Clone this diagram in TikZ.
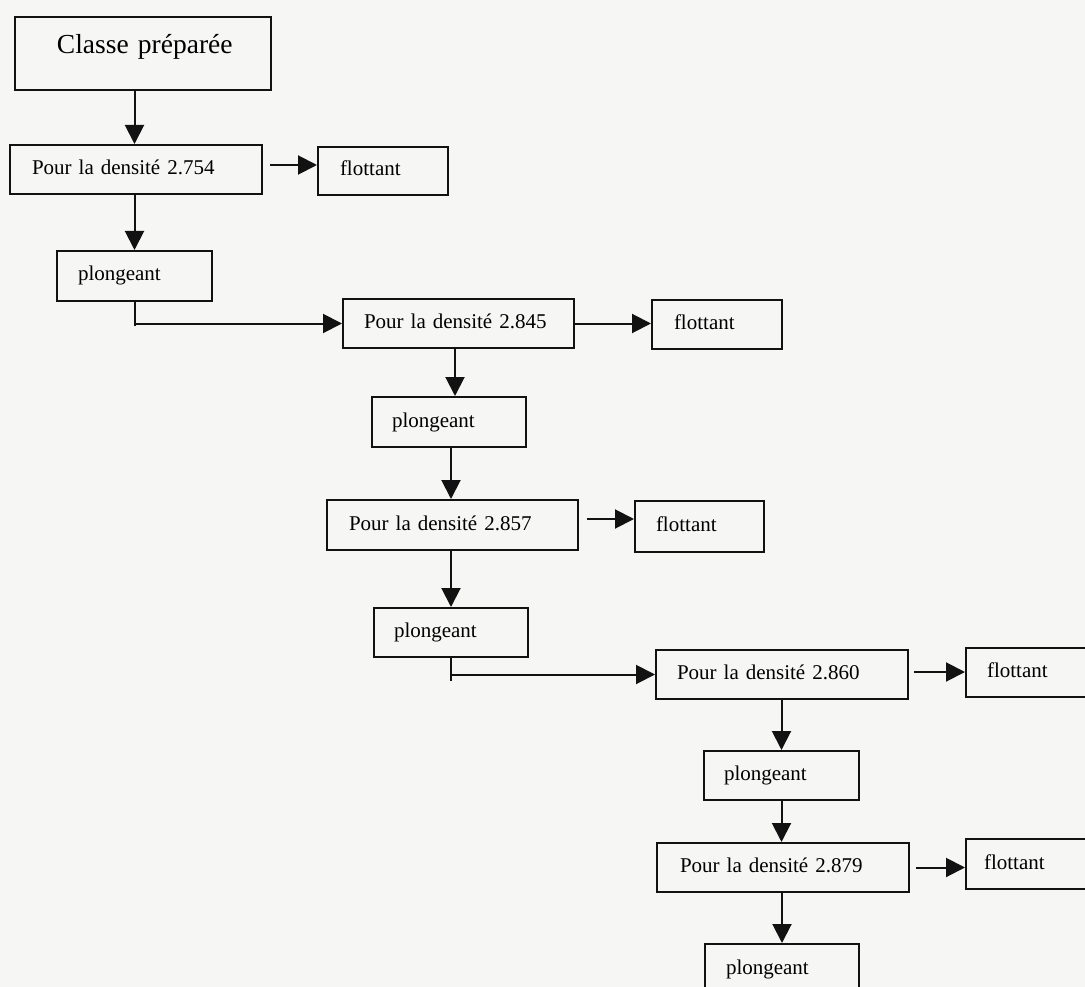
\documentclass[tikz,border=0pt]{standalone}
\usepackage{fontspec}
\setmainfont[WordSpace=0.85]{Liberation Serif}
\usetikzlibrary{arrows.meta}
\definecolor{paper}{RGB}{246,246,245}
\definecolor{ink}{RGB}{18,18,18}
\begin{document}
\begin{tikzpicture}[x=1pt,y=-1pt,
  box/.style={draw=ink, line width=2pt, anchor=north west,
    inner xsep=0pt, inner ysep=0pt, align=left,
    font=\fontsize{21}{25}\selectfont, text height=15pt, text depth=5pt},
  pad/.style={execute at begin node={\hspace*{#1}}},
  pad/.default=21pt,
  arr/.style={draw=ink, line width=2pt, -{Triangle[length=19pt,width=19pt]}},
  link/.style={draw=ink, line width=2pt}]

% page and background
\useasboundingbox (0,0) rectangle (1085,987);
\fill[paper] (0,0) rectangle (1085,987);
\clip (0,0) rectangle (1085,987);

% boxes
\node[box, pad=42pt, text width=256pt, minimum height=73pt,
      font=\fontsize{27.5}{32}\selectfont, text height=10pt, text depth=10pt]
      (cp) at (14,16) {Classe préparée};

\node[box, pad=22pt, text width=252pt, minimum height=49pt] (d1) at (9,144) {Pour la densité 2.754};
\node[box, pad=22pt, text width=130pt, minimum height=48pt] (f1) at (317,146) {flottant};
\node[box, pad=21pt, text width=155pt, minimum height=50pt] (p1) at (56,250) {plongeant};

\node[box, pad=21pt, text width=231pt, minimum height=49pt] (d2) at (342,298) {Pour la densité 2.845};
\node[box, pad=22pt, text width=130pt, minimum height=49pt] (f2) at (651,299) {flottant};
\node[box, pad=20pt, text width=154pt, minimum height=50pt] (p2) at (371,396) {plongeant};

\node[box, pad=22pt, text width=251pt, minimum height=50pt] (d3) at (326,499) {Pour la densité 2.857};
\node[box, pad=21pt, text width=129pt, minimum height=51pt] (f3) at (634,500) {flottant};
\node[box, pad=20pt, text width=154pt, minimum height=49pt] (p3) at (373,607) {plongeant};

\node[box, pad=21pt, text width=252pt, minimum height=49pt] (d4) at (655,649) {Pour la densité 2.860};
\node[box, pad=21pt, text width=130pt, minimum height=49pt] (f4) at (965,647) {flottant};
\node[box, pad=20pt, text width=155pt, minimum height=49pt] (p4) at (703,750) {plongeant};

\node[box, pad=23pt, text width=252pt, minimum height=49pt] (d5) at (656,842) {Pour la densité 2.879};
\node[box, pad=18pt, text width=130pt, minimum height=50pt] (f5) at (965,838) {flottant};
\node[box, pad=21pt, text width=154pt, minimum height=50pt] (p5) at (704,943) {plongeant};

% first stage
\draw[arr] (cp.south -| p1.north) -- (d1.north -| p1.north);
\draw[arr] (d1.south -| p1.north) -- (p1.north);
\coordinate (a1) at ([yshift=4.5pt]d1.east);
\draw[arr, shorten <=7pt] (a1) -- (a1 -| f1.west);
\draw[link] (p1.south) -- ++(0,24);
\draw[arr] (p1.south |- d2.west) -- (d2.west);

% second and third stages
\draw[arr] (d2.east) -- (d2.east -| f2.west);
\coordinate (a2) at ([xshift=-3.5pt]d2.south);
\draw[arr] (a2) -- (a2 |- p2.north);
\coordinate (a3) at ([xshift=2pt]p2.south);
\draw[arr] (a3) -- (a3 |- d3.north);
\coordinate (a4) at ([yshift=6pt]d3.east);
\draw[arr, shorten <=8pt] (a4) -- (a4 -| f3.west);
\draw[arr] (p3.north |- d3.south) -- (p3.north);
\draw[link] (p3.south) -- ++(0,23);
\draw[arr] (p3.south |- d4.west) -- (d4.west);

% fourth and fifth stages
\coordinate (a5) at ([yshift=2.5pt]d4.east);
\draw[arr, shorten <=5pt] (a5) -- (a5 -| f4.west);
\draw[arr] (p4.north |- d4.south) -- (p4.north);
\draw[arr] (p4.south) -- (p4.south |- d5.north);
\draw[arr, shorten <=6pt] (d5.east) -- (d5.east -| f5.west);
\draw[arr] (p5.north |- d5.south) -- (p5.north);
\end{tikzpicture}
\end{document}
